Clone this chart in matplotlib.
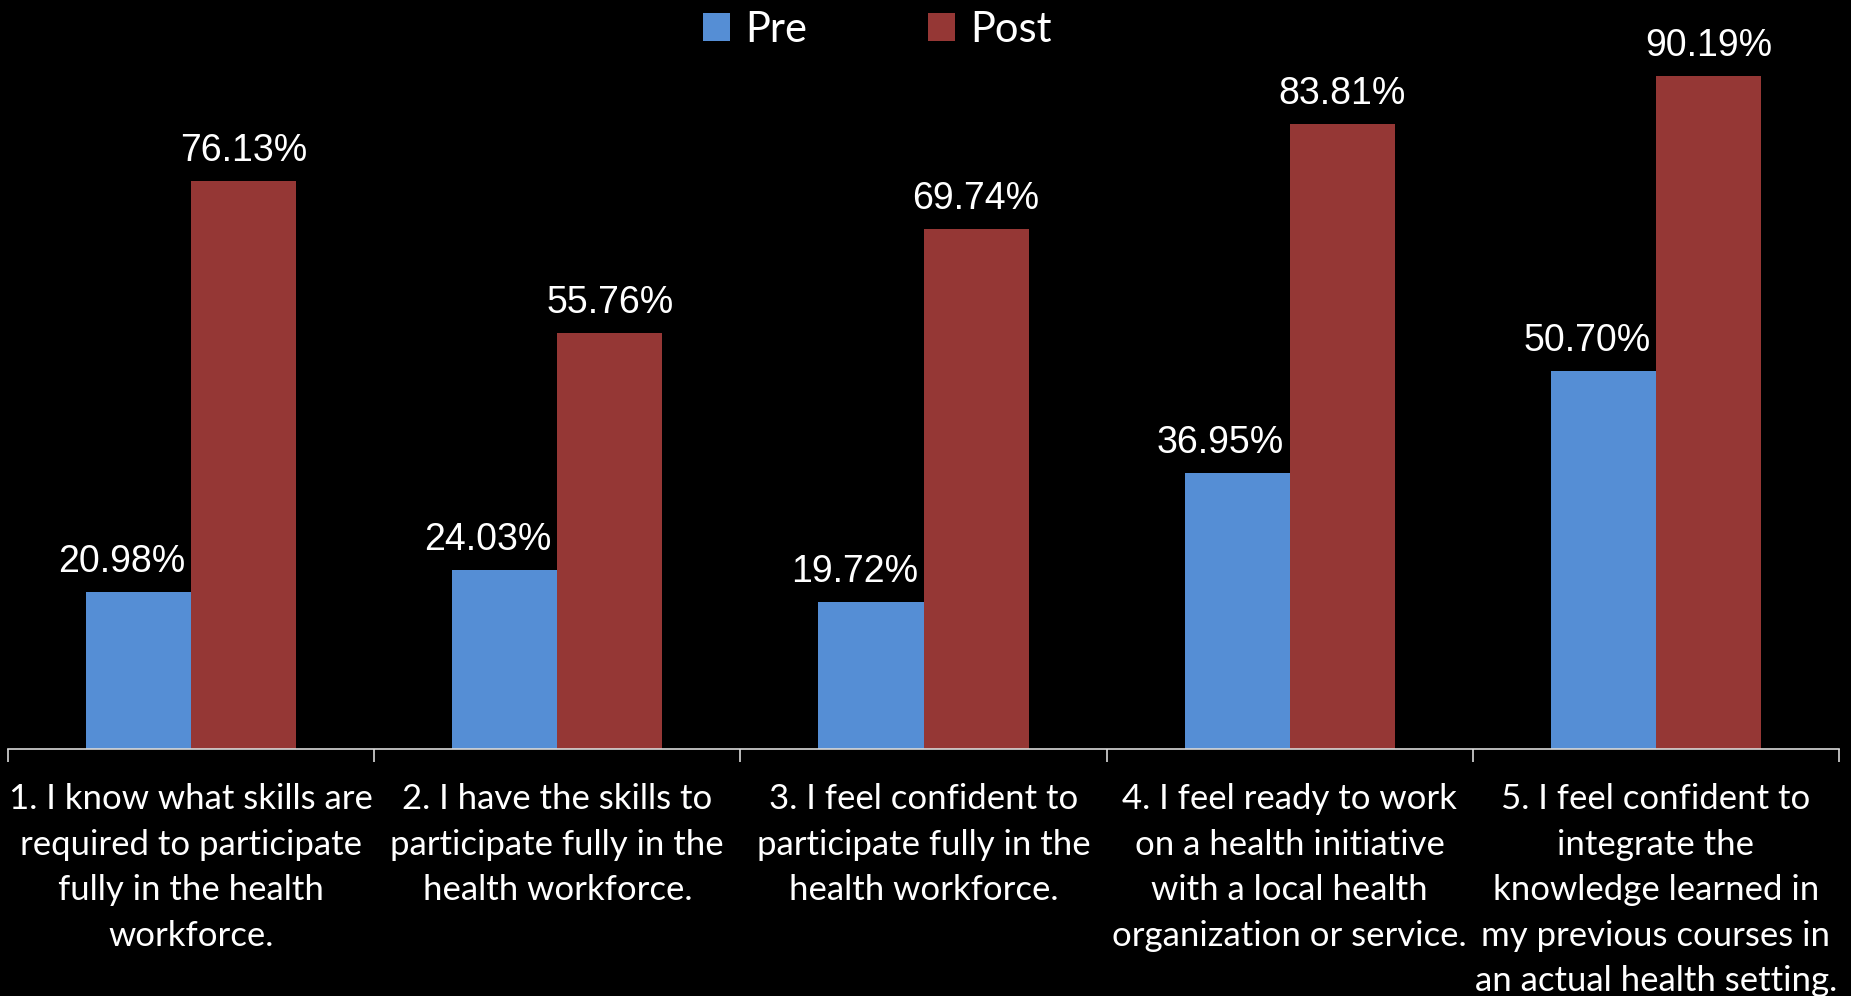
import numpy as np
import matplotlib.pyplot as plt

categories = [
    "1. I know what skills are\nrequired to participate\nfully in the health\nworkforce.",
    "2. I have the skills to\nparticipate fully in the\nhealth workforce.",
    "3. I feel confident to\nparticipate fully in the\nhealth workforce.",
    "4. I feel ready to work\non a health initiative\nwith a local health\norganization or service.",
    "5. I feel confident to\nintegrate the\nknowledge learned in\nmy previous courses in\nan actual health setting.",
]
pre = [20.98, 24.03, 19.72, 36.95, 50.70]
post = [76.13, 55.76, 69.74, 83.81, 90.19]

BLUE = "#558ed5"
RED = "#953735"
AXIS = "#d9d9d9"

fig = plt.figure(figsize=(18.51, 9.96), dpi=100, facecolor="black")
ax = fig.add_axes([8 / 1851, 247 / 996, 1831 / 1851, 746 / 996])
ax.set_facecolor("black")

x = np.arange(len(categories))
w = 0.287
b1 = ax.bar(x - w / 2, pre, w, color=BLUE, label="Pre")
b2 = ax.bar(x + w / 2, post, w, color=RED, label="Post")

ax.set_xlim(-0.5, len(categories) - 0.5)
ax.set_ylim(0, 100)

# value labels
for rects, vals, dx in ((b1, pre, -12), (b2, post, 0)):
    for r, v in zip(rects, vals):
        ax.annotate(f"{v:.2f}%", (r.get_x() + r.get_width() / 2, v),
                    xytext=(dx, 14.5), textcoords="offset points",
                    ha="center", va="baseline", color="white",
                    fontsize=27, family="Liberation Sans")

for s in ("top", "left", "right"):
    ax.spines[s].set_visible(False)
ax.spines["bottom"].set_color(AXIS)
ax.spines["bottom"].set_linewidth(1.2)
ax.set_yticks([])

ax.set_xticks(x)
ax.set_xticklabels(categories, fontsize=25, family="Lato", color="white",
                   linespacing=1.52)
ax.tick_params(axis="x", which="major", length=0, pad=24.5)
ax.set_xticks(np.arange(-0.5, len(categories)), minor=True)
ax.tick_params(axis="x", which="minor", length=9.5, width=1.2, color=AXIS,
               direction="out")

leg = fig.legend(loc="upper center", bbox_to_anchor=(877 / 1851, 1.027), ncol=2,
                 frameon=False, handlelength=0.65, handleheight=0.65,
                 handletextpad=0.36, columnspacing=2.9,
                 prop={"family": "Lato", "size": 30})
for t in leg.get_texts():
    t.set_color("white")

fig.savefig("out.png", dpi=100, facecolor="black")
